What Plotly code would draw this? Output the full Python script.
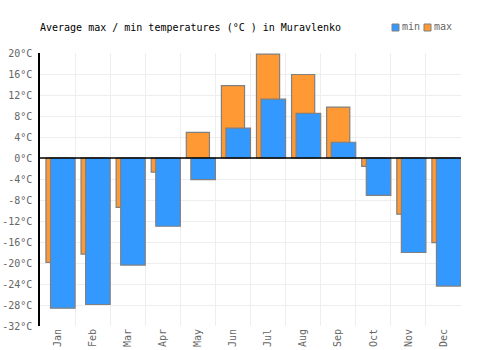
import plotly.graph_objects as go

months = ["Jan", "Feb", "Mar", "Apr", "May", "Jun", "Jul", "Aug", "Sep", "Oct", "Nov", "Dec"]
max_temps = [-19.9, -18.3, -9.4, -2.7, 4.9, 13.8, 19.8, 15.9, 9.7, -1.6, -10.7, -16.1]
min_temps = [-28.6, -27.9, -20.4, -13.0, -4.1, 5.7, 11.2, 8.5, 3.0, -7.1, -18.0, -24.4]
y_ticks = list(range(-32, 21, 4))
y_tick_labels = [f"{v}°C" for v in y_ticks]

FONT = "DejaVu Sans Mono"
BORDER = "#808080"
ORANGE = "#ff9933"
BLUE = "#3399ff"

fig = go.Figure()
fig.add_trace(go.Bar(
    x=months, y=max_temps, name="max",
    marker=dict(color=ORANGE, line=dict(color=BORDER, width=1.2)),
    offset=-0.33, width=0.66, showlegend=False,
))
fig.add_trace(go.Bar(
    x=months, y=min_temps, name="min",
    marker=dict(color=BLUE, line=dict(color=BORDER, width=1.2)),
    offset=-0.2, width=0.7, showlegend=False,
))
# helper trace for vertical category-boundary grid
fig.add_trace(go.Scatter(x=[0], y=[0], xaxis="x2", mode="markers", marker=dict(opacity=0),
                         showlegend=False, hoverinfo="skip"))

L, R, T, B = 40, 39, 53, 24
PW, PH = 500 - L - R, 350 - T - B

def px_x(px):
    return (px - L) / PW

def px_y(py):
    return (350 - B - py) / PH

legend_items = [("min", BLUE, 396), ("max", ORANGE, 428)]
annotations = []
shapes = []
for label, col, cx in legend_items:
    shapes.append(dict(type="rect", xref="paper", yref="paper",
                       x0=px_x(cx - 4), x1=px_x(cx + 3), y0=px_y(31), y1=px_y(24),
                       fillcolor=col, line=dict(color=BORDER, width=1)))
    annotations.append(dict(xref="paper", yref="paper", x=px_x(cx + 4), y=px_y(27),
                            xanchor="left", yanchor="middle", text=label, showarrow=False,
                            font=dict(family=FONT, size=10, color="#666")))
shapes.append(dict(type="line", xref="paper", x0=0, x1=1, yref="y", y0=0, y1=0,
                   line=dict(color="#000", width=1.5), layer="above"))

fig.update_layout(
    width=500, height=350,
    margin=dict(l=L, r=R, t=T, b=B, pad=0),
    barmode="overlay",
    plot_bgcolor="white", paper_bgcolor="white",
    font=dict(family=FONT, size=10, color="#666"),
    title=dict(text="Average max / min temperatures (°C ) in Muravlenko",
               x=40/500, xanchor="left", y=1-27/350, yanchor="middle",
               font=dict(family=FONT, size=10, color="#000")),
    showlegend=False,
    annotations=annotations,
    shapes=shapes,
    xaxis=dict(type="category", tickangle=-90, automargin=False,
               showgrid=False, ticks="",
               tickfont=dict(family=FONT, size=10, color="#666"),
               range=[-0.5, 11.5], showline=False),
    xaxis2=dict(overlaying="x", range=[-0.5, 11.5], tickvals=[i + 0.5 for i in range(-1, 12)],
                showticklabels=False, showgrid=True, gridcolor="#eeeeee", gridwidth=1,
                zeroline=False, ticks="", layer="below traces"),
    yaxis=dict(range=[-32, 20], tickvals=y_ticks, ticktext=y_tick_labels,
               showgrid=True, gridcolor="#eeeeee", gridwidth=1,
               zeroline=False,
               showline=True, linecolor="#000", linewidth=1.5,
               ticks="outside", ticklen=4, tickcolor="rgba(0,0,0,0)", automargin=False,
               tickfont=dict(family=FONT, size=10, color="#666")),
)

fig.write_html("out.html")
